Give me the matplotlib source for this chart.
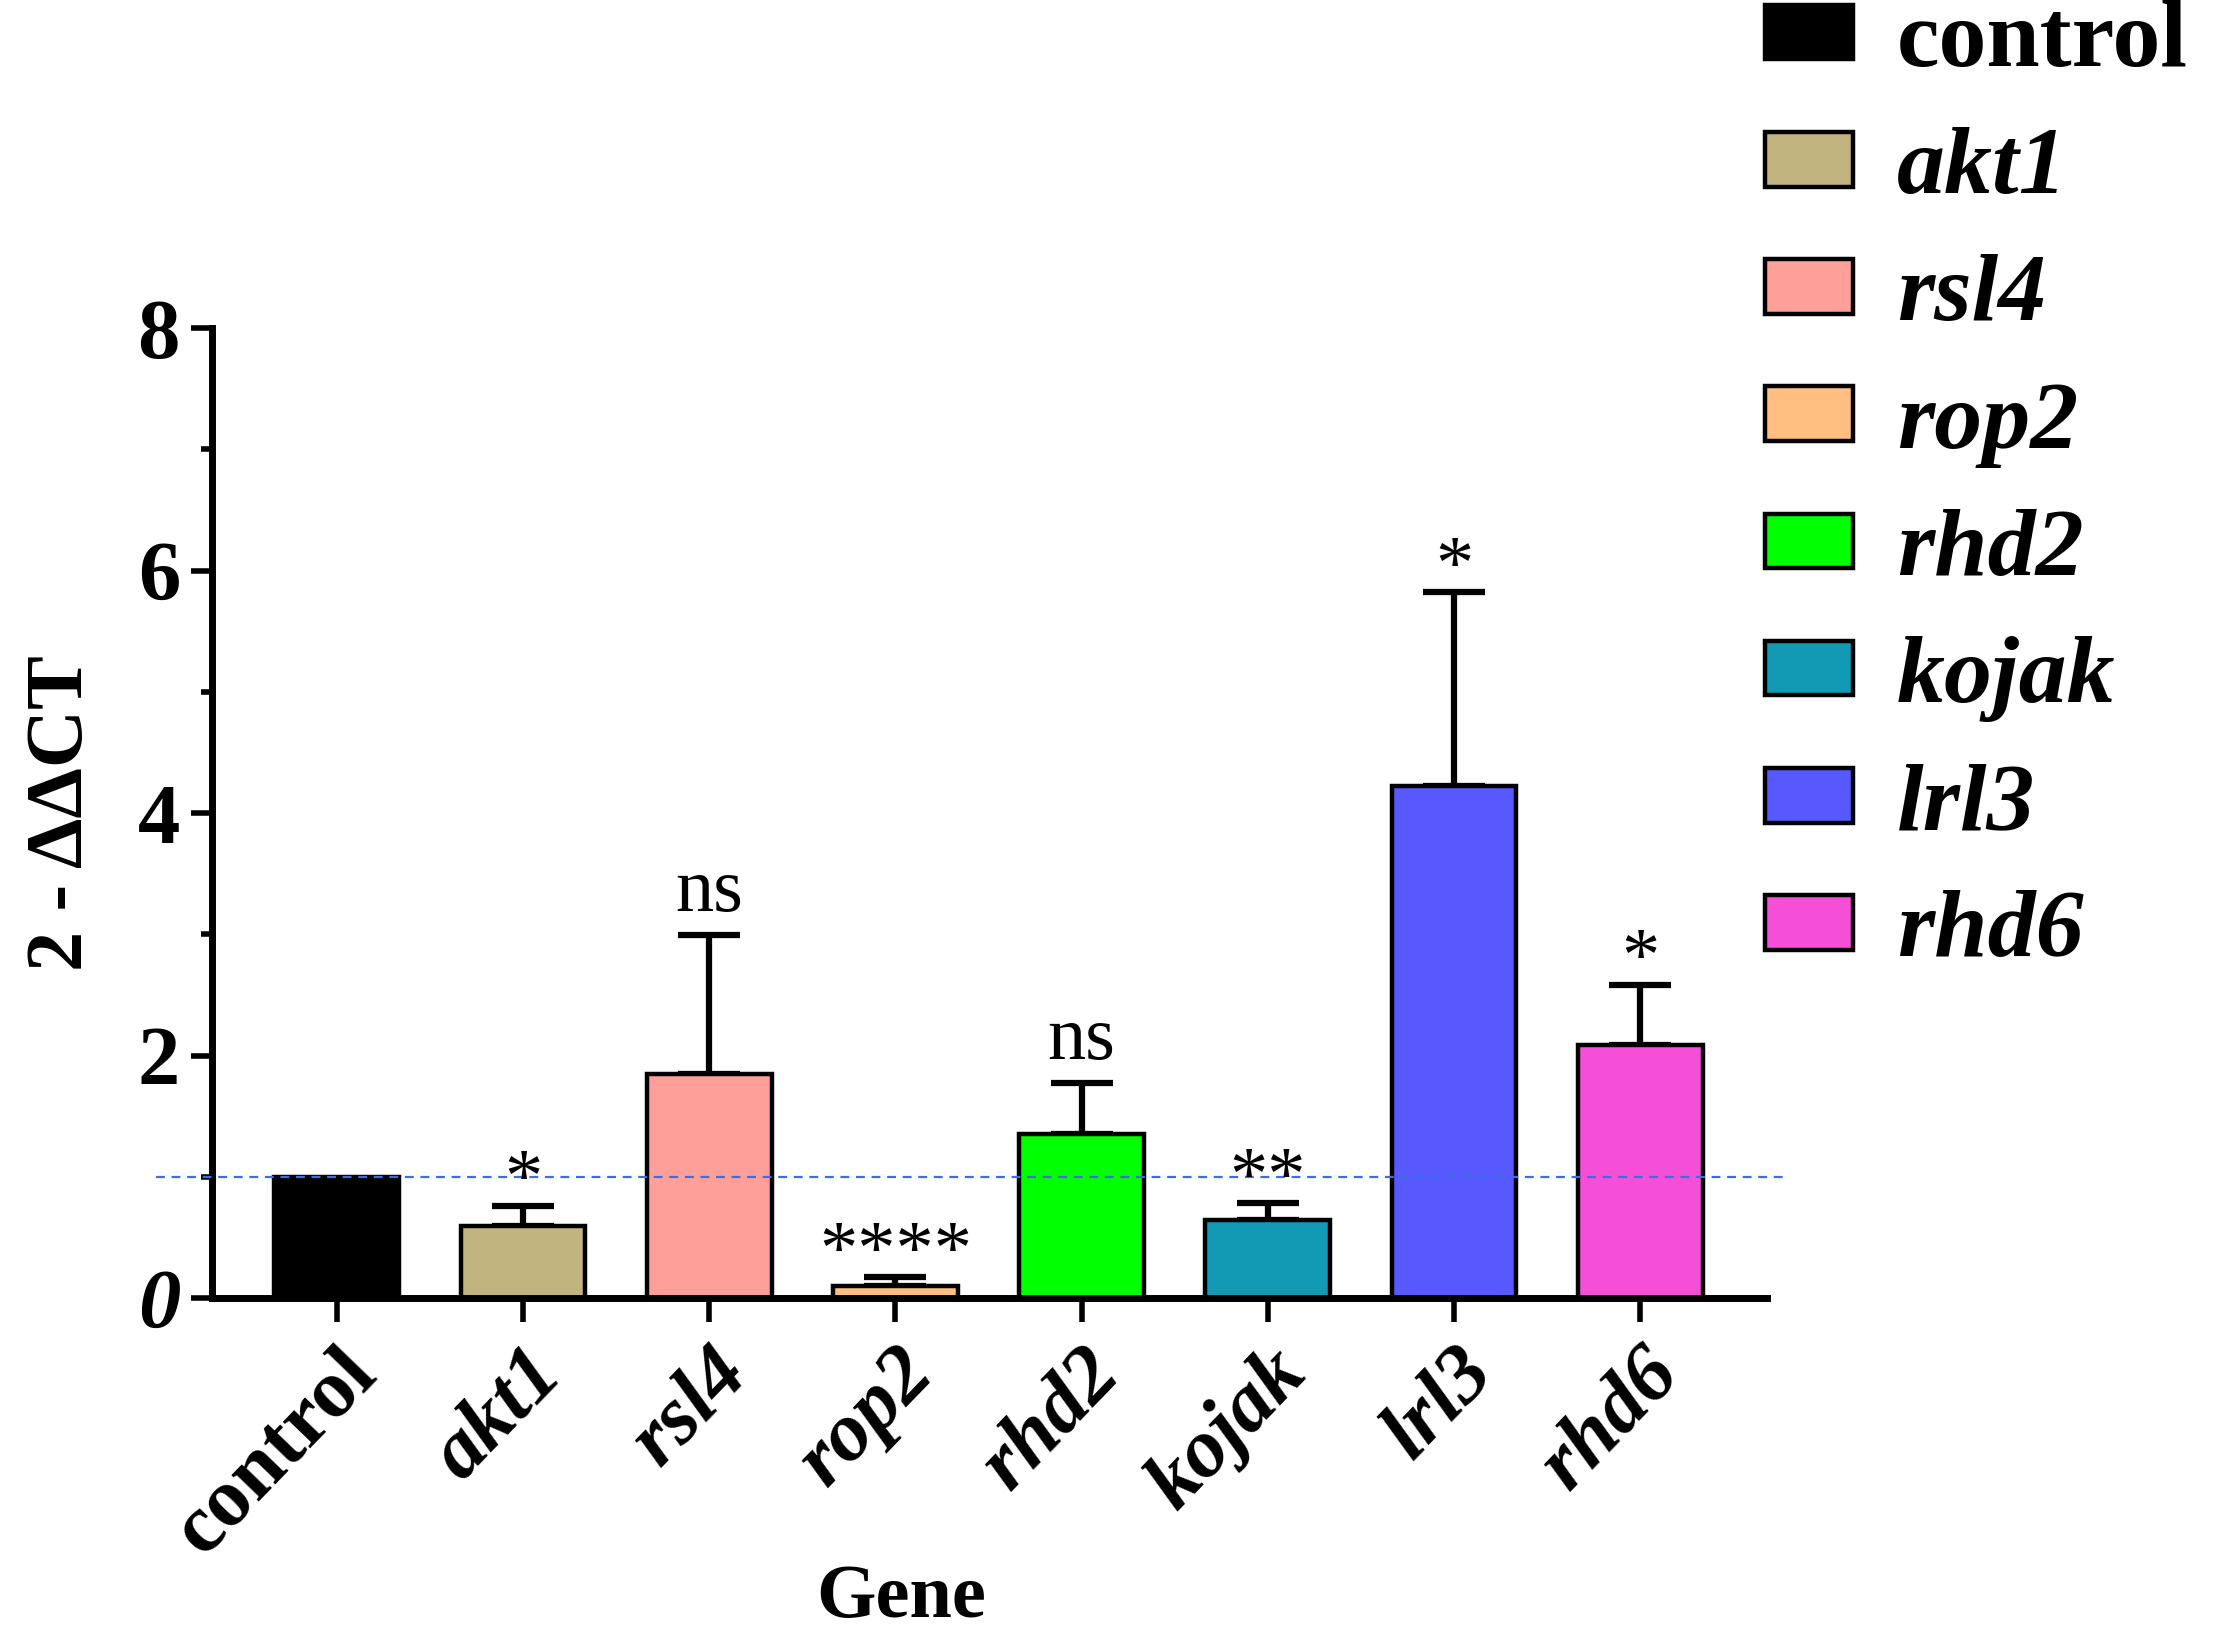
import matplotlib
matplotlib.use('Agg')
import matplotlib.pyplot as plt
import numpy as np

# data
genes = ['control', 'akt1', 'rsl4', 'rop2', 'rhd2', 'kojak', 'lrl3', 'rhd6']
means = [1.0, 0.59, 1.85, 0.10, 1.35, 0.64, 4.22, 2.09]
err_up = [0.0, 0.17, 1.14, 0.07, 0.42, 0.14, 1.60, 0.49]
sig = ['', '*', 'ns', '****', 'ns', '**', '*', '*']
colors = ['#000000', '#C2B47E', '#FF9F9A', '#FFBF80', '#00FF00',
          '#1299B4', '#5858FF', '#F54FD8']
ref_level = 1.0

plt.rcParams['font.family'] = ['Liberation Serif', 'DejaVu Serif']

fig = plt.figure(figsize=(22.17, 16.28), dpi=100)
ax = fig.add_axes([0.0956, 0.2027, 0.7014, 0.5958])

x = np.arange(len(genes))
bars = ax.bar(x, means, width=0.67, color=colors, edgecolor='black',
              linewidth=3.2, zorder=2)
ax.errorbar(x[1:], means[1:], yerr=[np.zeros(len(x) - 1), err_up[1:]],
            fmt='none', ecolor='black', elinewidth=4.5, capsize=22,
            capthick=4.5, zorder=1)

# reference line at 1
ax.plot([-0.97, 7.78], [ref_level, ref_level], ls=(0, (4, 3)), lw=1.6,
        color='#3A6FE0', clip_on=False, zorder=3)

# significance labels
for xi, m, e, s in zip(x, means, err_up, sig):
    if not s:
        continue
    off = 0.2 if s == 'ns' else 0.04
    ax.text(xi, m + e + off, s, ha='center', va='baseline', fontsize=55)

ax.set_xlim(-0.67, 7.68)
ax.set_ylim(0, 8)
ax.spines['top'].set_visible(False)
ax.spines['right'].set_visible(False)
ax.spines['left'].set_linewidth(5)
ax.spines['bottom'].set_linewidth(5)

ax.set_yticks([0, 2, 4, 6, 8])
ax.set_yticks([1, 3, 5, 7], minor=True)
ax.tick_params(axis='y', which='major', length=15, width=4, labelsize=61,
               pad=8)
ax.tick_params(axis='y', which='minor', length=8, width=4)
for lab in ax.get_yticklabels():
    lab.set_fontweight('bold')
ax.get_yticklabels()[0].set_fontstyle('italic')

ax.set_xticks(x)
ax.set_xticklabels(genes, rotation=46, ha='right', va='top',
                   rotation_mode='anchor', fontsize=60, fontweight='bold')
for i, lab in enumerate(ax.get_xticklabels()):
    if i > 0:
        lab.set_fontstyle('italic')
ax.tick_params(axis='x', length=17, width=4, pad=10)

ax.set_ylabel('2 - ΔΔCT', fontsize=58, fontweight='bold', labelpad=28)
ax.set_xlabel('Gene', fontsize=55, fontweight='bold', va='top')
ax.xaxis.set_label_coords(0.443, -0.274)

leg = ax.legend(bars, genes, loc='upper left', bbox_to_anchor=(0.796, 1.0),
                bbox_transform=fig.transFigure, frameon=False, fontsize=69,
                handlelength=0.92, handleheight=0.5, handletextpad=0.46,
                labelspacing=0.43, borderpad=0, borderaxespad=0)
for i, t in enumerate(leg.get_texts()):
    t.set_fontweight('bold')
    if i > 0:
        t.set_fontstyle('italic')

fig.savefig('out.png', dpi=100)
